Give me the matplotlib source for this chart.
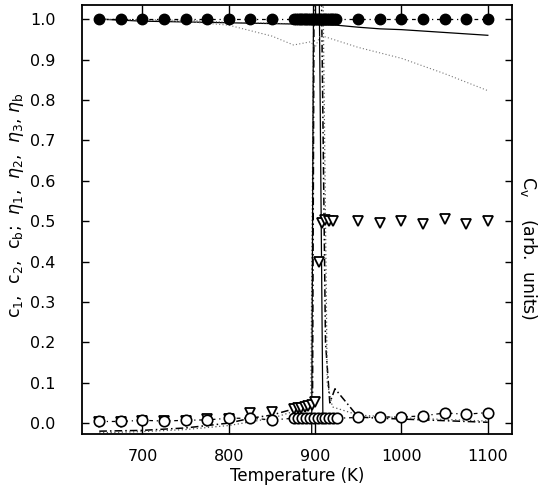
import matplotlib
matplotlib.use("Agg")
import matplotlib.pyplot as plt
import numpy as np

plt.rcParams['font.family'] = ['DejaVu Sans']
plt.rcParams['mathtext.fontset'] = 'dejavusans'

# ---------------- data ----------------
# filled circles (order parameter ~ 1)
T_fill = [650, 675, 700, 725, 750, 775, 800, 825, 850,
          876, 878, 880, 882, 884, 886, 888, 890, 892, 894, 896, 898, 900,
          902, 904, 906, 908, 910, 912, 914, 916, 918, 920, 922, 924,
          950, 975, 1000, 1025, 1050, 1075, 1100]
v_fill = [1.0] * len(T_fill)

# open circles (~0)
T_open = [650, 675, 700, 725, 750, 775, 800, 825, 850,
          876, 880.5, 885, 889.5, 894, 898.5, 903, 907.5, 912, 916.5, 921, 925.5,
          950, 975, 1000, 1025, 1050, 1075, 1100]
v_open = [0.004, 0.004, 0.007, 0.005, 0.007, 0.008, 0.012, 0.012, 0.008,
          0.012, 0.012, 0.012, 0.012, 0.012, 0.012, 0.012, 0.012, 0.012, 0.012, 0.012, 0.012,
          0.014, 0.015, 0.015, 0.018, 0.025, 0.022, 0.026]

# open down-triangles
T_tri = [650, 675, 700, 725, 750, 775, 800, 825, 850,
         876, 880, 884, 888, 892, 896, 900,
         904.5, 908, 912, 916, 921, 950, 975, 1000, 1025, 1050, 1075, 1100]
v_tri = [0.003, 0.003, 0.005, 0.005, 0.005, 0.01, 0.01, 0.025, 0.028,
         0.036, 0.037, 0.038, 0.040, 0.042, 0.045, 0.052,
         0.40, 0.495, 0.502, 0.50, 0.50, 0.501, 0.495, 0.50, 0.493, 0.505, 0.493, 0.50]

# solid concentration curve
T_c1 = [650, 700, 750, 800, 850, 875, 900, 925, 950, 975, 1000, 1050, 1100]
v_c1 = [1.0, 0.995, 0.993, 0.991, 0.989, 0.988, 0.986, 0.985, 0.98, 0.976, 0.974, 0.967, 0.96]

# dotted concentration curves
T_c2 = [650, 700, 750, 800, 850, 875, 895, 900, 906, 950, 1000, 1050, 1100]
v_c2 = [1.0, 0.998, 0.994, 0.985, 0.958, 0.936, 0.944, 0.93, 0.96, 0.93, 0.903, 0.865, 0.823]
T_c3 = [650, 750, 800, 850, 900]
v_c3 = [1.0, 0.997, 0.992, 0.99, 0.986]

# specific heat curves (arb. units)
T_cv1 = [650, 700, 750, 800, 825, 850, 875, 890, 897, 899.5, 905, 912, 917, 923,
         950, 975, 1000, 1050, 1100]
v_cv1 = [-0.02, -0.018, -0.012, 0.0, 0.012, 0.02, 0.035, 0.045, 0.057, 1.5, 1.5, 0.2, 0.05, 0.085,
         0.015, 0.012, 0.01, 0.006, 0.002]
T_cv2 = [650, 700, 750, 800, 850, 880, 895, 900, 907, 914, 920, 950, 1000, 1050, 1100]
v_cv2 = [-0.024, -0.021, -0.016, -0.006, 0.012, 0.032, 0.05, 1.5, 1.5, 0.1, 0.04,
         0.02, 0.013, 0.009, 0.005]
T_cv3 = [650, 800, 880, 896, 899, 903, 909, 925]
v_cv3 = [-0.04, -0.04, -0.035, -0.03, 1.5, 1.5, 0.008, 0.008]

xticks = [700, 800, 900, 1000, 1100]
yticks = [0.0, 0.1, 0.2, 0.3, 0.4, 0.5, 0.6, 0.7, 0.8, 0.9, 1.0]

# ---------------- figure ----------------
fig = plt.figure(figsize=(5.56, 4.91), dpi=100)
ax = fig.add_axes([82/556, 1-434/491, 430/556, 429/491])
xlim = (630, 1128)
ylim = (-0.027, 1.035)

dashdot = (0, (3, 3, 1, 3))

# Cv curves
ax.plot(T_cv1, v_cv1, color='black', lw=1.1, ls=(0, (5, 2, 1, 2)))
ax.plot(T_cv2, v_cv2, color='#555555', lw=0.9, ls=(0, (1, 2)))
ax.plot(T_cv3, v_cv3, color='black', lw=0.9, ls='-')

# concentration curves
ax.plot(T_c1, v_c1, color='black', lw=0.9, ls='-')
ax.plot(T_c2, v_c2, color='#777777', lw=0.8, ls=(0, (1, 2)))
ax.plot(T_c3, v_c3, color='#555555', lw=0.8, ls=(0, (1, 1.5)))

# markers
ax.plot(T_fill, v_fill, color='black', lw=0.9, ls=dashdot,
        marker='o', ms=7.5, mfc='black', mec='black')
ax.plot(T_tri, v_tri, color='black', ls='none',
        marker='v', ms=7, mfc='white', mec='black', mew=1.3)
ax.plot(T_open, v_open, color='black', lw=0.9, ls=dashdot,
        marker='o', ms=7.5, mfc='white', mec='black', mew=1.2)

ax.set_xlim(*xlim)
ax.set_ylim(*ylim)
ax.set_xticks(xticks)
ax.set_xticklabels([str(t) for t in xticks])
ax.set_yticks(yticks)
ax.set_yticklabels([f"{t:.1f}" for t in yticks])

ax.tick_params(axis='y', direction='in', length=5, width=1, pad=19, labelsize=11.5,
               left=True, right=True)
ax.tick_params(axis='x', direction='in', length=12, width=1, pad=11, labelsize=11.5,
               bottom=True, top=True)
for s in ax.spines.values():
    s.set_linewidth(1.3)

ax.set_xlabel('Temperature (K)', fontsize=12, labelpad=2)

fig.text(17/556, 1-205/491,
         r'c$_1$,  c$_2$,  c$_\mathrm{b}$;  $\eta_1$,  $\eta_2$,  $\eta_3$, $\eta_\mathrm{b}$',
         rotation=90, ha='center', va='center', fontsize=12.5)
fig.text(528/556, 1-248/491, r'C$_\mathrm{v}$    (arb.  units)', rotation=270,
         ha='center', va='center', fontsize=12.5)

fig.savefig('out.png', dpi=100)
